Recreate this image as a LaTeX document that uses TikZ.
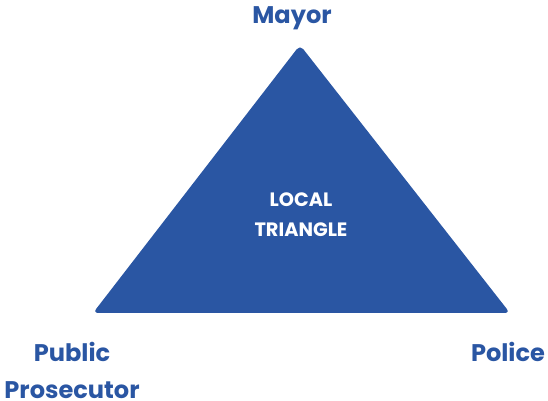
\documentclass[tikz,border=0pt]{standalone}
\usepackage{fontspec}
\setmainfont{Poppins}
\definecolor{triblue}{HTML}{2A56A3}

\begin{document}
\begin{tikzpicture}[x=0.02cm,y=-0.02cm,
    label/.style={font=\fontsize{13.7}{16}\selectfont\bfseries,color=triblue},
    inner/.style={font=\fontsize{11}{17}\selectfont\bfseries,color=white,align=center}]
    % Frame
    \useasboundingbox (0,0) rectangle (548,401);
    % Triangle
    \coordinate (top) at (300,45);
    \coordinate (left) at (93,313);
    \coordinate (right) at (510,313);
    \fill[color=triblue,rounded corners=3pt] (top) -- (right) -- (left) -- cycle;
    \node[inner] (local) at (301,215) {LOCAL\\TRIANGLE};
    % Corners
    \node[label] (mayor) at (292,18) {Mayor};
    \node[label] (public) at (72,352) {Public};
    \node[label] (prosecutor) at (72,390) {Prosecutor};
    \node[label] (police) at (508,352) {Police};
\end{tikzpicture}
\end{document}
